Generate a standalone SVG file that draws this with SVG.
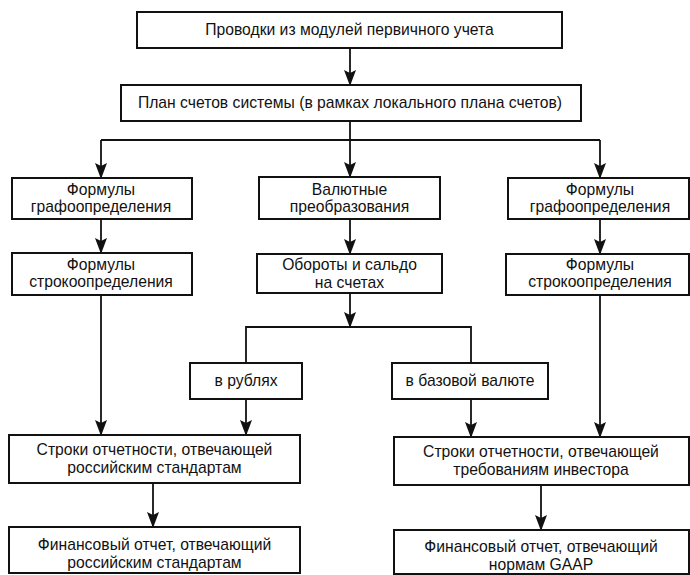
<svg xmlns="http://www.w3.org/2000/svg" width="690" height="575" viewBox="0 0 690 575">
<style>
  .box { fill: #fff; stroke: #111; stroke-width: 2; }
  .t { font-family: "Liberation Sans", Arial, sans-serif; font-size: 15.7px; fill: #111; text-anchor: middle; }
  .ln { fill: none; stroke: #111; stroke-width: 1.8; }
  .ar { fill: none; stroke: #111; stroke-width: 1.8; marker-end: url(#arr); }
</style>
<defs>
  <marker id="arr" viewBox="0 0 16 12" refX="15" refY="6" markerWidth="16" markerHeight="12" markerUnits="userSpaceOnUse" orient="auto">
    <path d="M0,0 L16,6 L0,12 L3,6 z" fill="#111"/>
  </marker>
</defs>
<rect width="690" height="575" fill="#fff"/>
<g id="connectors">
  <line class="ar" x1="350" y1="48" x2="350" y2="85"/>
  <line class="ln" x1="350" y1="121" x2="350" y2="140"/>
  <line class="ln" x1="101" y1="140" x2="600" y2="140"/>
  <line class="ar" x1="101" y1="140" x2="101" y2="178"/>
  <line class="ar" x1="350" y1="140" x2="350" y2="177"/>
  <line class="ar" x1="600" y1="140" x2="600" y2="178"/>
  <line class="ar" x1="101" y1="219" x2="101" y2="253"/>
  <line class="ar" x1="350" y1="219" x2="350" y2="254"/>
  <line class="ar" x1="600" y1="219" x2="600" y2="254"/>
  <line class="ar" x1="350" y1="293" x2="350" y2="327"/>
  <polyline class="ln" points="246,363 246,327 471,327 471,363"/>
  <line class="ar" x1="101" y1="295" x2="101" y2="435"/>
  <line class="ar" x1="246" y1="399" x2="246" y2="435"/>
  <line class="ar" x1="471" y1="399" x2="471" y2="437"/>
  <line class="ar" x1="600" y1="295" x2="600" y2="437"/>
  <line class="ar" x1="153" y1="483" x2="153" y2="527"/>
  <line class="ar" x1="541" y1="485" x2="541" y2="530"/>
</g>
<g id="n1">
  <rect class="box" x="137" y="12" width="425" height="36"/>
  <text class="t" x="349.5" y="35">Проводки из модулей первичного учета</text>
</g>
<g id="n2">
  <rect class="box" x="121" y="85" width="460" height="36"/>
  <text class="t" x="350" y="108">План счетов системы (в рамках локального плана счетов)</text>
</g>
<g id="n3">
  <rect class="box" x="12" y="178" width="180" height="41"/>
  <text class="t" x="101" y="195">Формулы</text>
  <text class="t" x="101" y="212">графоопределения</text>
</g>
<g id="n4">
  <rect class="box" x="259" y="177" width="181" height="42"/>
  <text class="t" x="349.5" y="195">Валютные</text>
  <text class="t" x="349.5" y="212">преобразования</text>
</g>
<g id="n5">
  <rect class="box" x="508" y="178" width="181" height="41"/>
  <text class="t" x="600" y="195">Формулы</text>
  <text class="t" x="600" y="212">графоопределения</text>
</g>
<g id="n6">
  <rect class="box" x="12" y="253" width="180" height="42"/>
  <text class="t" x="101" y="270">Формулы</text>
  <text class="t" x="101" y="287">строкоопределения</text>
</g>
<g id="n7">
  <rect class="box" x="257" y="254" width="185" height="39"/>
  <text class="t" x="349.5" y="270">Обороты и сальдо</text>
  <text class="t" x="349.5" y="288">на счетах</text>
</g>
<g id="n8">
  <rect class="box" x="506" y="254" width="183" height="41"/>
  <text class="t" x="600" y="270">Формулы</text>
  <text class="t" x="600" y="287">строкоопределения</text>
</g>
<g id="n9">
  <rect class="box" x="190" y="363" width="112" height="36"/>
  <text class="t" x="246" y="386">в рублях</text>
</g>
<g id="n10">
  <rect class="box" x="392" y="363" width="156" height="36"/>
  <text class="t" x="470" y="386">в базовой валюте</text>
</g>
<g id="n11">
  <rect class="box" x="9" y="435" width="291" height="48"/>
  <text class="t" x="154.5" y="455">Строки отчетности, отвечающей</text>
  <text class="t" x="154.5" y="473">российским стандартам</text>
</g>
<g id="n12">
  <rect class="box" x="394" y="437" width="295" height="48"/>
  <text class="t" x="541" y="457">Строки отчетности, отвечающей</text>
  <text class="t" x="541" y="475">требованиям инвестора</text>
</g>
<g id="n13">
  <rect class="box" x="9" y="527" width="291" height="46"/>
  <text class="t" x="154.5" y="550">Финансовый отчет, отвечающий</text>
  <text class="t" x="154.5" y="568">российским стандартам</text>
</g>
<g id="n14">
  <rect class="box" x="394" y="530" width="295" height="44"/>
  <text class="t" x="541" y="552">Финансовый отчет, отвечающий</text>
  <text class="t" x="541" y="570">нормам GAAP</text>
</g>
</svg>
